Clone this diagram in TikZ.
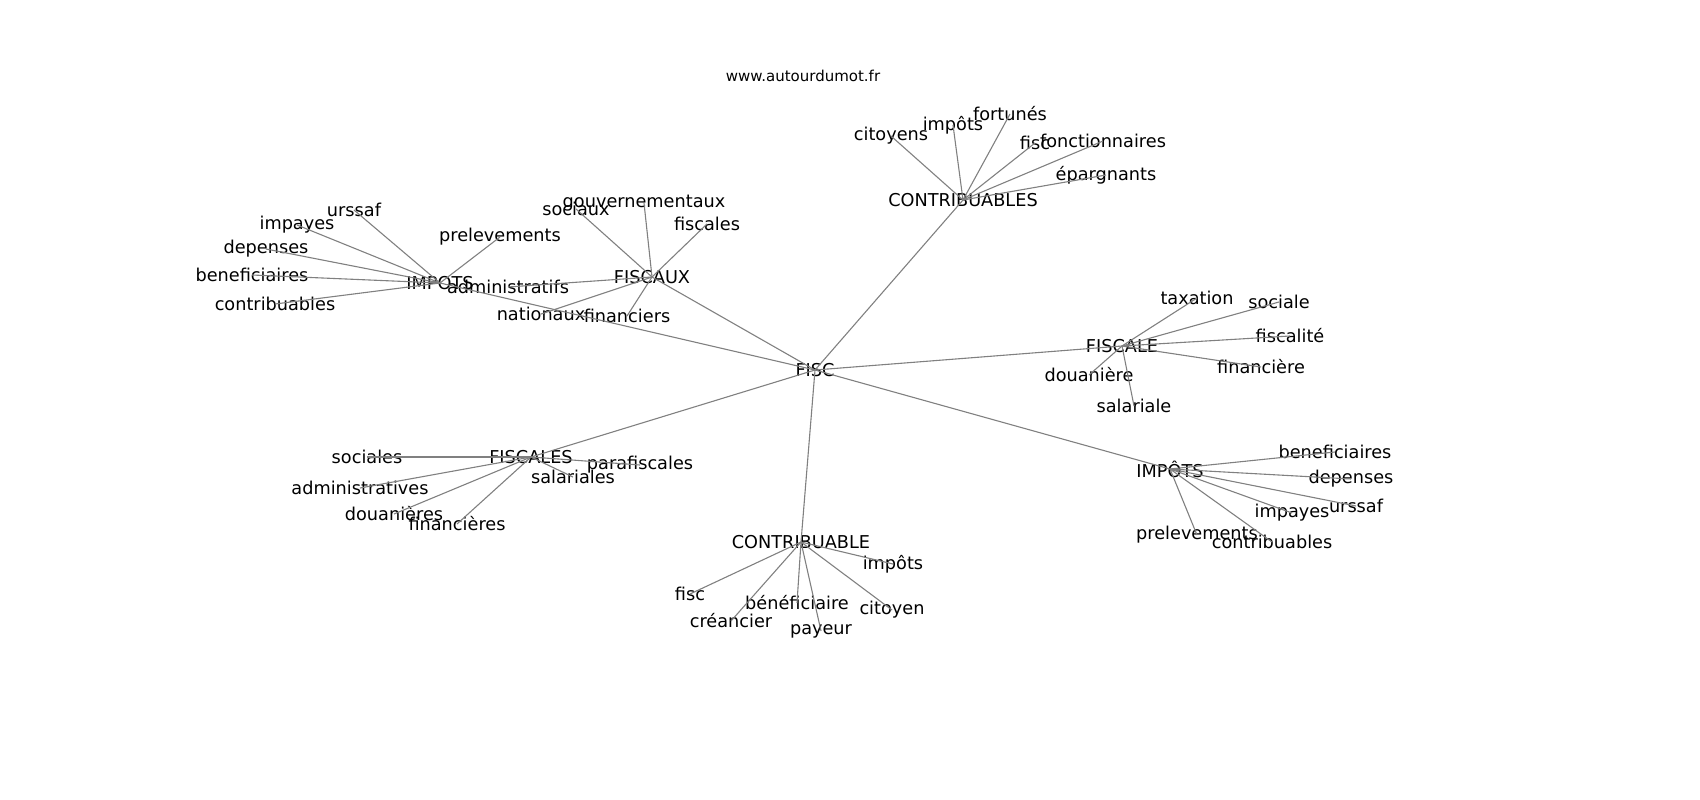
\documentclass[tikz,border=0pt]{standalone}
\usepackage{fontspec}
\setmainfont{DejaVu Sans}
\usepackage{tikz}

\begin{document}
\begin{tikzpicture}[x=1pt,y=-1pt]

	\tikzstyle{word} = [inner sep=0pt,font=\fontsize{17.7}{20}\selectfont]
	\tikzstyle{link} = [draw=black!50,line width=1.1pt]

	\useasboundingbox (0,0) rectangle (1700,800);
	\node[inner sep=0pt,font=\fontsize{15}{18}\selectfont] (site) at (803,76) {www.autourdumot.fr};

	% centre
	\node[word] (fisc) at (815,370) {FISC};

	% IMPOTS a gauche
	\node[word] (impotsA) at (440,283) {IMPOTS};
	\node[word] (urssafA) at (354,210) {urssaf};
	\node[word] (impayesA) at (297,225) {impayes};
	\node[word] (depensesA) at (266,249) {depenses};
	\node[word] (beneficiairesA) at (252,275) {beneficiaires};
	\node[word] (contribuablesA) at (275,304) {contribuables};
	\node[word] (prelevementsA) at (500,237) {prelevements};

	% FISCAUX
	\node[word] (fiscaux) at (652,277) {FISCAUX};
	\node[word] (sociaux) at (576,209) {sociaux};
	\node[word] (gouvernementaux) at (644,203) {gouvernementaux};
	\node[word] (fiscalesB) at (707,224) {fiscales};
	\node[word] (administratifs) at (508,287) {administratifs};
	\node[word] (nationaux) at (541,314) {nationaux};
	\node[word] (financiers) at (627,316) {financiers};

	% CONTRIBUABLES
	\node[word] (contribuables) at (963,200) {CONTRIBUABLES};
	\node[word] (citoyens) at (891,136) {citoyens};
	\node[word] (impotsC) at (953,125) {impôts};
	\node[word] (fortunes) at (1010,114) {fortunés};
	\node[word] (fiscC) at (1035,143) {fisc};
	\node[word] (fonctionnaires) at (1103,141) {fonctionnaires};
	\node[word] (epargnants) at (1106,175) {épargnants};

	% FISCALE
	\node[word] (fiscale) at (1122,346) {FISCALE};
	\node[word] (taxation) at (1197,298) {taxation};
	\node[word] (sociale) at (1279,302) {sociale};
	\node[word] (fiscalite) at (1290,336) {fiscalité};
	\node[word] (financiere) at (1261,367) {financière};
	\node[word] (douaniere) at (1089,375) {douanière};
	\node[word] (salariale) at (1134,406) {salariale};

	% IMPÔTS a droite
	\node[word] (impotsD) at (1170,469) {IMPÔTS};
	\node[word] (beneficiairesD) at (1335,452) {beneficiaires};
	\node[word] (depensesD) at (1351,479) {depenses};
	\node[word] (urssafD) at (1356,506) {urssaf};
	\node[word] (impayesD) at (1292,513) {impayes};
	\node[word] (prelevementsD) at (1197,535) {prelevements};
	\node[word] (contribuablesD) at (1272,542) {contribuables};

	% CONTRIBUABLE
	\node[word] (contribuable) at (801,542) {CONTRIBUABLE};
	\node[word] (impotsE) at (893,564) {impôts};
	\node[word] (fiscE) at (690,594) {fisc};
	\node[word] (beneficiaire) at (797,603) {bénéficiaire};
	\node[word] (citoyen) at (892,610) {citoyen};
	\node[word] (creancier) at (731,621) {créancier};
	\node[word] (payeur) at (821,631) {payeur};

	% FISCALES
	\node[word] (fiscales) at (531,457) {FISCALES};
	\node[word] (sociales) at (367,457) {sociales};
	\node[word] (administratives) at (360,488) {administratives};
	\node[word] (douanieres) at (394,514) {douanières};
	\node[word] (financieres) at (457,524) {financières};
	\node[word] (salariales) at (573,477) {salariales};
	\node[word] (parafiscales) at (640,465) {parafiscales};

	\foreach \hub in {impotsA,fiscaux,contribuables,fiscale,impotsD,contribuable,fiscales}
		\draw[link] (fisc.center) -- (\hub.center);

	\foreach \leaf in {urssafA,impayesA,depensesA,beneficiairesA,contribuablesA,prelevementsA}
		\draw[link] (impotsA.center) -- (\leaf.center);
	\foreach \leaf in {sociaux,gouvernementaux,fiscalesB,administratifs,nationaux,financiers}
		\draw[link] (fiscaux.center) -- (\leaf.center);
	\foreach \leaf in {citoyens,impotsC,fortunes,fiscC,fonctionnaires,epargnants}
		\draw[link] (contribuables.center) -- (\leaf.center);
	\foreach \leaf in {taxation,sociale,fiscalite,financiere,douaniere,salariale}
		\draw[link] (fiscale.center) -- (\leaf.center);
	\foreach \leaf in {beneficiairesD,depensesD,urssafD,impayesD,prelevementsD,contribuablesD}
		\draw[link] (impotsD.center) -- (\leaf.center);
	\foreach \leaf in {impotsE,fiscE,beneficiaire,citoyen,creancier,payeur}
		\draw[link] (contribuable.center) -- (\leaf.center);
	\foreach \leaf in {sociales,administratives,douanieres,financieres,salariales,parafiscales}
		\draw[link] (fiscales.center) -- (\leaf.center);

\end{tikzpicture}
\end{document}
